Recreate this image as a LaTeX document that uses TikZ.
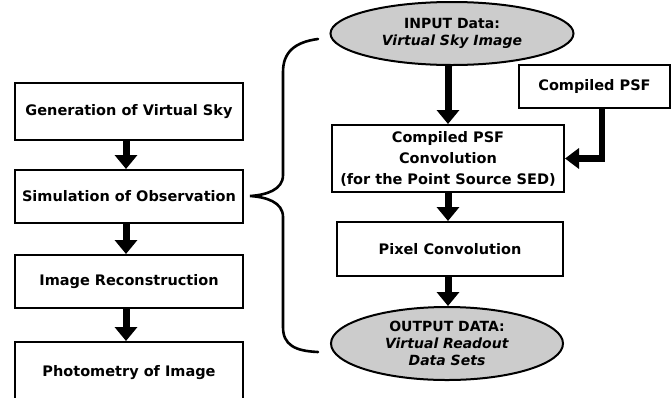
\documentclass[tikz,border=0pt]{standalone}
\usepackage{fontspec}
\setmainfont{DejaVu Sans}
\usetikzlibrary{arrows.meta,shapes.geometric}
\tikzset{
  stepbox/.style={draw=black,line width=2pt,fill=white,font=\bfseries\fontsize{14.5}{17}\selectfont,align=center,inner sep=0pt},
  dataell/.style={ellipse,draw=black,line width=2pt,fill=gray!40,font=\bfseries\fontsize{14}{17}\selectfont,align=center,inner sep=0pt},
  bigarrow/.style={line width=7pt,-{Triangle[length=14pt,width=22pt]}},
  bracestyle/.style={line width=2.6pt,line cap=round}
}
\begin{document}
\begin{tikzpicture}[x=1pt,y=-1pt]
\useasboundingbox (0,0) rectangle (671,397);
% left column
\node[stepbox,minimum width=228pt,minimum height=57pt] (gen) at (129,111.5) {Generation of Virtual Sky};
\node[stepbox,minimum width=228pt,minimum height=53pt] (sim) at (129,196.5) {Simulation of Observation};
\node[stepbox,minimum width=228pt,minimum height=53pt] (rec) at (129,281.5) {Image Reconstruction};
\node[stepbox,minimum width=228pt,minimum height=62pt] (pho) at (129,373) {Photometry of Image};
\draw[bigarrow] (gen.south -| 126,0) -- (sim.north -| 126,0);
\draw[bigarrow] (sim.south -| 126,0) -- (rec.north -| 126,0);
\draw[bigarrow] (rec.south -| 126,0) -- (pho.north -| 126,0);
% right column
\node[dataell,minimum width=243pt,minimum height=63pt] (inp) at (452,33.5) {INPUT Data:\\\textit{Virtual Sky Image}};
\node[stepbox,minimum width=151pt,minimum height=43pt] (psf) at (594.5,86.5) {Compiled PSF};
\node[stepbox,minimum width=232pt,minimum height=67pt,font=\bfseries\fontsize{14.5}{21}\selectfont] (conv) at (448,158.5) {Compiled PSF\\Convolution\\(for the Point Source SED)};
\node[stepbox,minimum width=226pt,minimum height=54pt] (pix) at (450,249) {Pixel Convolution};
\node[dataell,minimum width=232pt,minimum height=73pt] (out) at (447,343.5) {OUTPUT DATA:\\\textit{Virtual Readout}\\\textit{Data Sets}};
\draw[bigarrow] (inp.south -| 448,0) -- (conv.north -| 448,0);
\draw[bigarrow] (conv.south -| 448,0) -- (pix.north -| 448,0);
\draw[bigarrow] (pix.south -| 448,0) -- (out.north -| 448,0);
\draw[line width=6.5pt,-{Triangle[length=14pt,width=20pt]}] ([xshift=7.5pt]psf.south) |- (conv.east);
% brace
\coordinate (btop) at (318,39);
\coordinate (bbot) at (318,352);
\coordinate (btip) at (250,196);
\draw[bracestyle] (btop) .. controls (295,42) and (283,52) .. (283,72)
  -- (283,175) .. controls (283,190) and (266,195) .. (btip)
  .. controls (266,197) and (283,202) .. (283,217)
  -- (283,327) .. controls (283,345) and (295,351) .. (bbot);
\end{tikzpicture}
\end{document}
